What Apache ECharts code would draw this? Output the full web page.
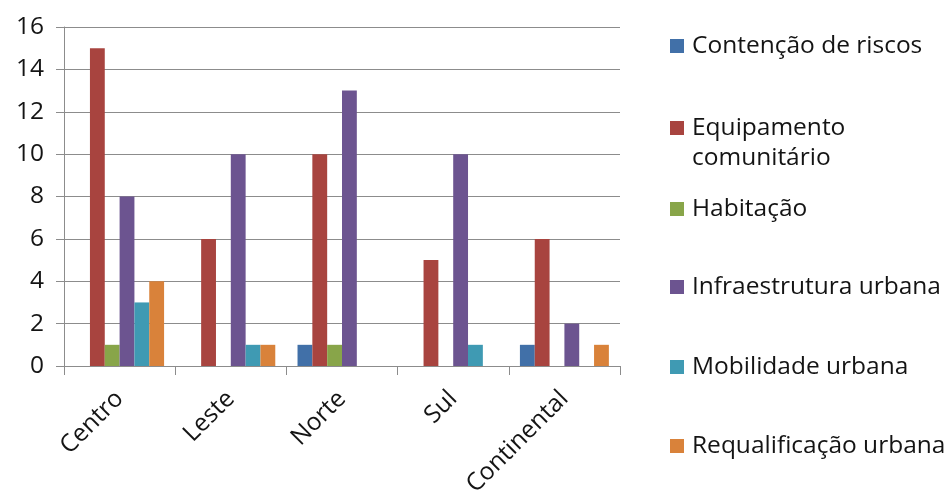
<!DOCTYPE html>
<html>
<head>
<meta charset="utf-8">
<script src="https://cdn.jsdelivr.net/npm/echarts@6/dist/echarts.min.js"></script>
<style>
  html, body { margin: 0; padding: 0; background: #fff; }
  #chart { width: 952px; height: 493px; }
</style>
</head>
<body>
<div id="chart"></div>
<script>
// Regions and intervention types
const regions = ['Centro', 'Leste', 'Norte', 'Sul', 'Continental'];
const seriesNames = [
  'Contenção de riscos',
  'Equipamento comunitário',
  'Habitação',
  'Infraestrutura urbana',
  'Mobilidade urbana',
  'Requalificação urbana'
];

// Counts per region, one array per intervention type
const contencaoRiscos      = [0, 0, 1, 0, 1];
const equipamentoComunit   = [15, 6, 10, 5, 6];
const habitacao            = [1, 0, 1, 0, 0];
const infraestruturaUrbana = [8, 10, 13, 10, 2];
const mobilidadeUrbana     = [3, 1, 0, 1, 0];
const requalificacaoUrbana = [4, 1, 0, 0, 1];

const yTicks = { min: 0, max: 16, interval: 2 };

const values = [
  contencaoRiscos, equipamentoComunit, habitacao,
  infraestruturaUrbana, mobilidadeUrbana, requalificacaoUrbana
];
const colors = ['#4170A8', '#A8443F', '#88A549', '#6C5490', '#3F9AB3', '#D9823A'];

const FONT = '"Open Sans", "Liberation Sans", sans-serif';
const FS = 24.5;
const TEXT = '#141414';
const GRID_LINE = '#8c8c8c';

// Legend rows: first-line centre of each entry
const legendRows = [46, 128, 209, 287, 367, 446];
const LINE_H = 30;

// The two-line entry gets a blank leading line so that the icon,
// which sits at the middle of the text block, lines up with "Equipamento".
const legends = seriesNames.map((name, i) => {
  const twoLines = name === 'Equipamento comunitário';
  return {
    left: 670,
    top: twoLines ? legendRows[i] - LINE_H * 1.5 : legendRows[i] - LINE_H / 2,
    padding: 0,
    orient: 'vertical',
    icon: 'rect',
    itemWidth: 14,
    itemHeight: 14,
    selectedMode: false,
    data: [name],
    formatter: n => (n === 'Equipamento comunitário' ? ' \nEquipamento\ncomunitário' : n),
    textStyle: {
      fontFamily: FONT, fontSize: FS, color: TEXT, lineHeight: LINE_H,
      padding: [0, 0, 0, 3]
    }
  };
});

const chart = echarts.init(document.getElementById('chart'), null, { renderer: 'canvas' });
chart.setOption({
  animation: false,
  backgroundColor: '#ffffff',
  color: colors,
  grid: {
    left: 64, right: 332, top: 27, bottom: 127,
    containLabel: false,
    outerBoundsMode: 'none'
  },
  legend: legends,
  xAxis: {
    type: 'category',
    data: regions,
    boundaryGap: true,
    axisLine: { show: true, lineStyle: { color: GRID_LINE, width: 1 } },
    axisTick: { show: true, length: 9, inside: false, lineStyle: { color: GRID_LINE } },
    axisLabel: {
      rotate: 45,
      interval: 0,
      margin: 29,
      fontFamily: FONT,
      fontSize: FS,
      color: TEXT
    },
    splitLine: { show: false }
  },
  yAxis: {
    type: 'value',
    min: yTicks.min,
    max: yTicks.max,
    interval: yTicks.interval,
    axisLine: { show: true, lineStyle: { color: GRID_LINE, width: 1 } },
    axisTick: { show: true, length: 8, lineStyle: { color: GRID_LINE } },
    axisLabel: { margin: 20, fontFamily: FONT, fontSize: FS, color: TEXT },
    splitLine: { show: true, lineStyle: { color: GRID_LINE, width: 1 } }
  },
  series: seriesNames.map((name, i) => ({
    name: name,
    type: 'bar',
    data: values[i],
    barGap: '0%',
    barCategoryGap: '20%',
    itemStyle: { color: colors[i] }
  }))
});
</script>
</body>
</html>
